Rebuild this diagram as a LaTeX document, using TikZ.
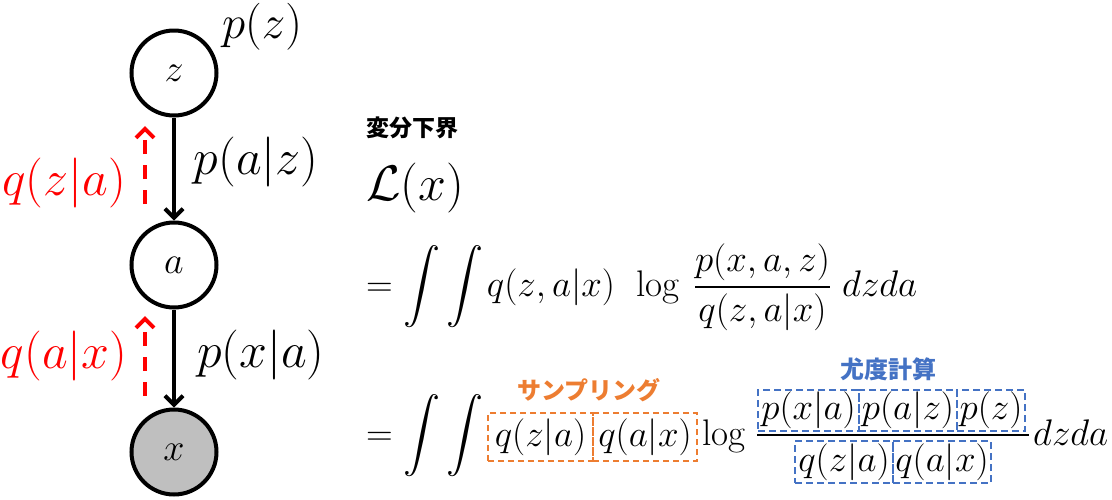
\RequirePackage{fix-cm}
\documentclass[tikz,border=0pt]{standalone}
\usepackage{amsmath}
\DeclareFontShape{OMX}{cmex}{m}{n}{<->cmex10}{}
\usepackage{fontspec}
\newfontfamily\cjk{Noto Sans CJK JP}
\usetikzlibrary{arrows.meta}
\definecolor{sred}{RGB}{255,0,0}
\definecolor{sorange}{RGB}{237,125,49}
\definecolor{sblue}{RGB}{68,114,196}
\definecolor{obsgray}{RGB}{191,191,191}
\begin{document}
\begin{tikzpicture}[x=1pt,y=-1pt,
  var/.style={circle, draw, line width=4pt, minimum size=85pt, inner sep=0pt, font=\fontsize{38}{46}\selectfont},
  obs/.style={var, fill=obsgray},
  gen/.style={-{Straight Barb[length=9pt,width=18pt]}, line width=4pt},
  inf/.style={-{Straight Barb[length=9pt,width=18pt]}, line width=4pt, sred, dash pattern=on 14pt off 11pt},
  lbl/.style={font=\fontsize{50}{60}\selectfont, inner sep=0pt},
  frm/.style={font=\fontsize{37}{44}\selectfont, inner sep=0pt},
  obox/.style={frm, draw=sorange, line width=1.8pt, dash pattern=on 6pt off 4pt, inner sep=0pt},
  bbox/.style={frm, draw=sblue, line width=1.8pt, dash pattern=on 7pt off 4pt, inner sep=0pt},
  jlab/.style={font=\cjk\bfseries\fontsize{24}{29}\selectfont, inner sep=0pt}
]
\useasboundingbox (0,0) rectangle (1112,499);
% graphical model
\node[var] (z) at (174,73) {$z$};
\node[var] (a) at (174,265) {$a$};
\node[obs] (x) at (174,452) {$x$};
\draw[gen] (z) -- (a);
\draw[gen] (a) -- (x);
\coordinate (qzaS) at (145,204);
\coordinate (qzaE) at (145,126);
\coordinate (qaxS) at (145,396);
\coordinate (qaxE) at (145,316);
\draw[inf] (qzaS) -- (qzaE);
\draw[inf] (qaxS) -- (qaxE);
\node[lbl, font=\fontsize{47}{56}\selectfont] (pzl) at (262,27) {$p(z)$};
\node[lbl] (pazl) at (256,162) {$p(a|z)$};
\node[lbl] (pxal) at (261,355) {$p(x|a)$};
\node[lbl, text=sred] (qzal) at (64,183) {$q(z|a)$};
\node[lbl, text=sred] (qaxl) at (64,356) {$q(a|x)$};
% ELBO
\node[jlab, font=\cjk\bfseries\fontsize{23}{28}\selectfont, anchor=west] (vlb) at (366,128) {変分下界};
\node[anchor=west, inner sep=0pt, font=\fontsize{50}{60}\selectfont] (lx) at (366,188) {$\mathcal{L}(x)$};
% first line
\node[frm, anchor=west] (eq1) at (366,287) {$\displaystyle =\int\int$};
\node[frm] (q1) at (551,287) {$q(z,a|x)$};
\node[frm, anchor=base] (log1) at (658,296) {$\log$};
\node[frm] (fr1) at (762.5,287) {$\displaystyle\frac{p(x,a,z)}{q(z,a|x)}$};
\node[frm, anchor=base west] (dz1) at (842,296) {$dzda$};
% second line
\node[frm, anchor=west] (eq2) at (366,436) {$\displaystyle =\int\int$};
\node[obox, minimum width=105pt, minimum height=48pt] (s1) at (540.5,437) {$q(z|a)$};
\node[obox, minimum width=104pt, minimum height=48pt] (s2) at (645,437) {$q(a|x)$};
\node[frm, anchor=base] (log2) at (724,445) {$\log$};
\node[bbox, minimum width=101pt, minimum height=41pt] (n1) at (808.5,410.5) {$p(x|a)$};
\node[bbox, minimum width=98pt, minimum height=41pt] (n2) at (908,410.5) {$p(a|z)$};
\node[bbox, minimum width=68pt, minimum height=41pt] (n3) at (991,410.5) {$p(z)$};
\node[bbox, minimum width=98pt, minimum height=42pt] (d1) at (844,462) {$q(z|a)$};
\node[bbox, minimum width=98pt, minimum height=42pt] (d2) at (942,462) {$q(a|x)$};
\coordinate (barL) at (757,435);
\coordinate (barR) at (1029,435);
\draw[line width=1.5pt] (barL) -- (barR);
\node[frm, anchor=base west] (dz2) at (1033,445) {$dzda$};
\node[jlab, text=sorange] (samp) at (589,390) {サンプリング};
\node[jlab, text=sblue] (lik) at (888,369) {尤度計算};
\end{tikzpicture}
\end{document}
